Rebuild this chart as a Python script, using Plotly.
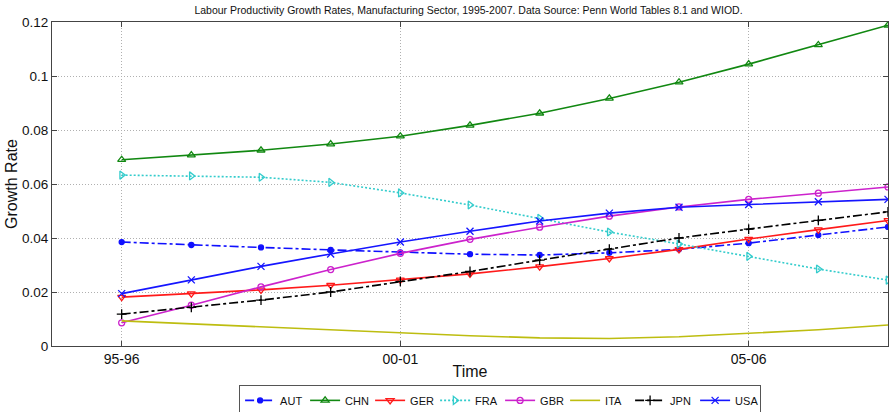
import plotly.graph_objects as go

periods = list(range(12))
tick_positions = [0, 4, 9]
tick_labels = ["95-96", "00-01", "05-06"]

AUT = [0.0385, 0.0374, 0.0365, 0.0356, 0.0347, 0.0340, 0.0337, 0.0345, 0.0358, 0.0381, 0.0411, 0.0441]
CHN = [0.0690, 0.0707, 0.0725, 0.0748, 0.0777, 0.0817, 0.0862, 0.0917, 0.0977, 0.1044, 0.1115, 0.1188]
GER = [0.0181, 0.0194, 0.0208, 0.0225, 0.0245, 0.0267, 0.0294, 0.0324, 0.0358, 0.0396, 0.0431, 0.0465]
FRA = [0.0633, 0.0630, 0.0625, 0.0606, 0.0567, 0.0522, 0.0473, 0.0422, 0.0378, 0.0332, 0.0285, 0.0244]
GBR = [0.0086, 0.0151, 0.0219, 0.0283, 0.0343, 0.0395, 0.0440, 0.0481, 0.0515, 0.0543, 0.0566, 0.0589]
ITA = [0.0093, 0.0082, 0.0071, 0.0060, 0.0048, 0.0038, 0.0030, 0.0028, 0.0034, 0.0047, 0.0060, 0.0078]
JPN = [0.0118, 0.0143, 0.0170, 0.0200, 0.0239, 0.0276, 0.0318, 0.0359, 0.0400, 0.0433, 0.0465, 0.0497]
USA = [0.0194, 0.0245, 0.0295, 0.0341, 0.0385, 0.0425, 0.0463, 0.0492, 0.0514, 0.0524, 0.0534, 0.0543]

series = [
    ("AUT", AUT, "#1010FF", "dashdot", "circle", 5),
    ("CHN", CHN, "#118811", "solid", "triangle-up-open", 7),
    ("GER", GER, "#FF1A1A", "solid", "triangle-down-open", 7),
    ("FRA", FRA, "#33CCCC", "2px,2px", "triangle-right-open", 7),
    ("GBR", GBR, "#CC22CC", "solid", "circle-open", 6),
    ("ITA", ITA, "#BDBD10", "solid", None, 0),
    ("JPN", JPN, "#000000", "dashdot", "cross-thin-open", 7),
    ("USA", USA, "#1515FF", "solid", "x-thin-open", 7),
]

fig = go.Figure()
for name, vals, color, dash, sym, size in series:
    if sym is None:
        fig.add_trace(go.Scatter(x=periods, y=vals, name=name, mode="lines",
                                 line=dict(color=color, width=1.6, dash=dash)))
    else:
        fig.add_trace(go.Scatter(x=periods, y=vals, name=name, mode="lines+markers",
                                 line=dict(color=color, width=1.6, dash=dash),
                                 marker=dict(symbol=sym, size=size, color=color,
                                             line=dict(color=color, width=1.3))))

fig.update_layout(
    width=889, height=412,
    margin=dict(l=52, r=1, t=22, b=66, autoexpand=False),
    paper_bgcolor="white", plot_bgcolor="white",
    font=dict(family="Arial, Liberation Sans, sans-serif", color="#111111"),
    title=dict(text="Labour Productivity Growth Rates, Manufacturing Sector, 1995-2007. Data Source: Penn World Tables 8.1 and WIOD.",
               x=0.527, xanchor="center", yref="container", y=0.985, yanchor="top",
               font=dict(size=10.5)),
    showlegend=True,
    legend=dict(orientation="h", x=0.536, xanchor="center", y=-0.12, yanchor="top",
                bordercolor="#555555", borderwidth=1, font=dict(size=11),
                entrywidth=20, entrywidthmode="pixels", itemwidth=30,
                tracegroupgap=0, itemsizing="trace"),
    xaxis=dict(range=[-1, 11], tickvals=tick_positions, ticktext=tick_labels,
               automargin=False,
               showgrid=True, gridcolor="#b0b0b0", griddash="1px,2px", gridwidth=1,
               showline=True, linecolor="#444444", linewidth=1, mirror="ticks",
               ticks="inside", ticklen=5, tickcolor="#444444",
               tickfont=dict(size=14), zeroline=False,
               title=dict(text="Time", font=dict(size=16), standoff=0)),
    yaxis=dict(range=[0, 0.12], tickvals=[0, 0.02, 0.04, 0.06, 0.08, 0.1, 0.12],
               ticktext=["0", "0.02", "0.04", "0.06", "0.08", "0.1", "0.12"],
               automargin=False,
               showgrid=True, gridcolor="#b0b0b0", griddash="1px,2px", gridwidth=1,
               showline=True, linecolor="#444444", linewidth=1, mirror="ticks",
               ticks="inside", ticklen=5, tickcolor="#444444",
               tickfont=dict(size=13.5), zeroline=False,
               title=dict(text="Growth Rate", font=dict(size=16), standoff=0)),
)

fig.write_html("out.html", config={"displayModeBar": False},
               post_script="document.body.style.margin='0';document.documentElement.style.overflow='hidden';")
